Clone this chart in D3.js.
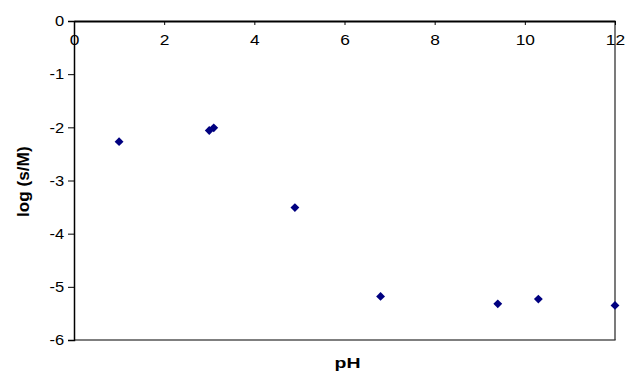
<!DOCTYPE html>
<html><head><meta charset="utf-8">
<script src="https://cdn.jsdelivr.net/npm/d3@7"></script>
<style>body{margin:0;background:#fff}svg{display:block}text{font-family:Arial,"Liberation Sans",sans-serif}</style>
</head><body>
<svg id="c" width="626" height="372"></svg>
<script>
const pH = [1.0, 3.0, 3.1, 4.9, 6.8, 9.4, 10.3, 12.0];
const logS = [-2.27, -2.06, -2.01, -3.51, -5.18, -5.32, -5.23, -5.35];
const xTicks = [0, 2, 4, 6, 8, 10, 12];
const yTicks = [0, -1, -2, -3, -4, -5, -6];

const svg = d3.select("#c");
const L = 74, R = 615, T = 21, B = 340;
const x = d3.scaleLinear().domain([0, 12]).range([L, R]);
const y = d3.scaleLinear().domain([-6, 0]).range([B, T]);
const FF = "Arial, 'Liberation Sans', sans-serif";
const fmt = d => String(d);

// plot border (right & bottom, gray)
svg.append("line").attr("x1", L).attr("x2", R + 0.6).attr("y1", B).attr("y2", B).attr("stroke", "#555").attr("stroke-width", 1.5);
svg.append("line").attr("x1", R).attr("x2", R).attr("y1", T).attr("y2", B).attr("stroke", "#333").attr("stroke-width", 1.3);

// y axis
const ya = svg.append("g").attr("transform", `translate(${L},0)`)
  .call(d3.axisLeft(y).tickValues(yTicks).tickSize(6).tickPadding(3).tickFormat(fmt));
ya.select(".domain").attr("stroke", "#000").attr("stroke-width", 1.5);
ya.selectAll(".tick line").attr("stroke", "#000");
ya.selectAll("text").attr("font-size", 15).attr("fill", "#000").attr("font-family", FF)
  .attr("transform", "scale(1.1,1)");

// x axis at y=0 (top), ticks pointing down into plot
const xa = svg.append("g").attr("transform", `translate(0,${y(0)})`)
  .call(d3.axisBottom(x).tickValues(xTicks).tickSizeInner(4).tickSizeOuter(0).tickPadding(9).tickFormat(fmt));
xa.select(".domain").attr("stroke", "#000").attr("stroke-width", 2.2);
xa.selectAll(".tick line").attr("stroke", "#000");
xa.selectAll("text").attr("font-size", 15.5).attr("fill", "#000").attr("font-family", FF)
  .attr("transform", "scale(1.12,1)");

// points
const diamond = d3.symbol().type(d3.symbolDiamond2).size(50);
svg.append("g").selectAll("path").data(pH.map((p, i) => [p, logS[i]])).join("path")
  .attr("d", diamond)
  .attr("transform", d => `translate(${x(d[0])},${y(d[1])})`)
  .attr("fill", "#000080");

// axis titles
svg.append("text").attr("transform", `translate(347.5,368) scale(1.3,1)`).attr("text-anchor", "middle")
  .attr("font-size", 15).attr("font-weight", "bold").text("pH");
svg.append("text").attr("transform", `translate(28.5,181.7) rotate(-90)`).attr("text-anchor", "middle")
  .attr("font-size", 17.2).attr("font-weight", "bold").text("log (s/M)");
</script>
</body></html>
